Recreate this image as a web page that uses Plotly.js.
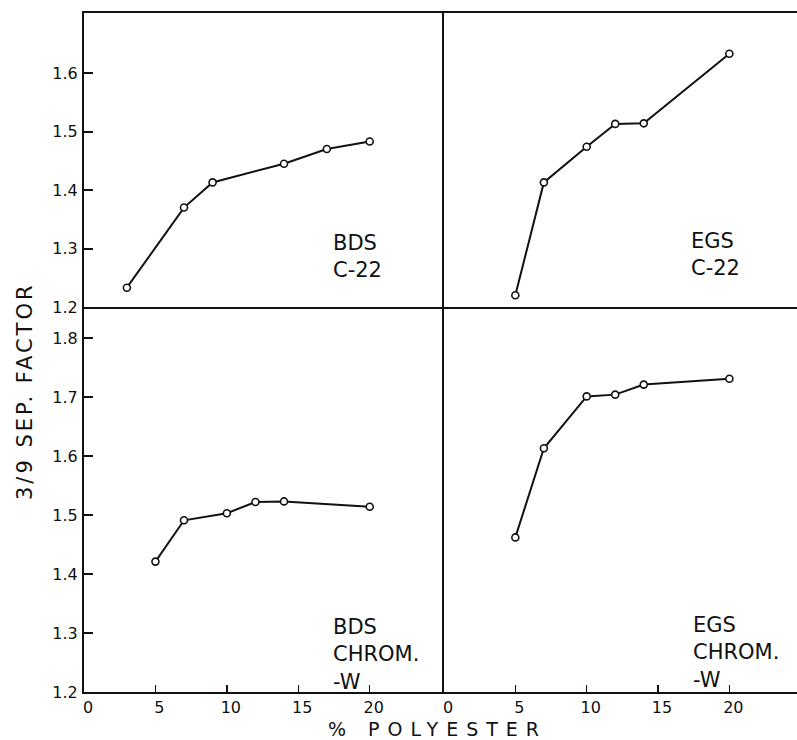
<!DOCTYPE html>
<html>
<head>
<meta charset="utf-8">
<script src="https://cdn.plot.ly/plotly-3.0.1.min.js"></script>
<style>html,body{margin:0;padding:0;background:#fff;}#chart{width:797px;height:740px;}</style>
</head>
<body>
<div id="chart"></div>
<script>
// Data
const bdsC22X = [3, 7, 9, 14, 17, 20];
const bdsC22Y = [1.233, 1.370, 1.413, 1.445, 1.470, 1.483];
const egsC22X = [5, 7, 10, 12, 14, 20];
const egsC22Y = [1.220, 1.413, 1.474, 1.513, 1.514, 1.633];
const bdsChromX = [5, 7, 10, 12, 14, 20];
const bdsChromY = [1.421, 1.491, 1.503, 1.522, 1.523, 1.514];
const egsChromX = [5, 7, 10, 12, 14, 20];
const egsChromY = [1.462, 1.613, 1.701, 1.704, 1.721, 1.731];
const xTicks = [0, 5, 10, 15, 20];
const xTickText = ['0', '5', '10', '15', '20'];
const yTicksTop = [1.2, 1.3, 1.4, 1.5, 1.6];
const yTicksBottom = [1.2, 1.3, 1.4, 1.5, 1.6, 1.7, 1.8];
const panelLabels = ['BDS<br>C-22', 'EGS<br>C-22', 'BDS<br>CHROM.<br>-W', 'EGS<br>CHROM.<br>-W'];
const xTitle = '% POLYESTER';
const yTitle = '3/9 SEP. FACTOR';

const ink = '#111111';
const font = 'DejaVu Sans, Liberation Sans, sans-serif';

function series(x, y, xa, ya) {
  return {
    x: x, y: y, xaxis: xa, yaxis: ya, type: 'scatter', mode: 'lines+markers',
    line: {color: ink, width: 2},
    marker: {symbol: 'circle', size: 7, color: '#ffffff', line: {color: ink, width: 1.6}},
    cliponaxis: false, showlegend: false, hoverinfo: 'skip'
  };
}

const data = [
  series(bdsChromX, bdsChromY, 'x', 'y'),
  series(egsChromX, egsChromY, 'x2', 'y2'),
  series(bdsC22X, bdsC22Y, 'x3', 'y3'),
  series(egsC22X, egsC22Y, 'x4', 'y4')
];

const split = 0.5049;
const ysplit = 0.567;
const tickFont = {family: font, size: 16, color: ink};

function xBottom(domain, range, anchor) {
  return {
    domain: domain, range: range, anchor: anchor, showgrid: false, zeroline: false,
    showline: true, linecolor: ink, linewidth: 2,
    ticks: 'inside', ticklen: 7, tickwidth: 1.5, tickcolor: ink,
    tickmode: 'array', tickvals: xTicks, ticktext: xTickText, tickfont: tickFont,
    ticklabelshift: 4
  };
}
function xTop(domain, range, anchor) {
  return {
    domain: domain, range: range, anchor: anchor, showgrid: false, zeroline: false,
    showline: true, mirror: true, linecolor: ink, linewidth: 2,
    ticks: '', showticklabels: false
  };
}
function yLeft(domain, range, anchor, vals) {
  return {
    domain: domain, range: range, anchor: anchor, showgrid: false, zeroline: false,
    showline: true, linecolor: ink, linewidth: 2,
    ticks: 'inside', ticklen: 9, tickwidth: 2, tickcolor: ink,
    tickmode: 'array', tickvals: vals, ticktext: vals.map(v => v.toFixed(1)),
    tickfont: tickFont, ticklabelstandoff: 1
  };
}
function yRight(domain, range, anchor) {
  return {
    domain: domain, range: range, anchor: anchor, showgrid: false, zeroline: false,
    showline: true, linecolor: ink, linewidth: 2, ticks: '', showticklabels: false
  };
}

const annFont = {family: font, size: 21, color: ink};
function panelLabel(text, xref, yref, x, y) {
  return {text: text, xref: xref, yref: yref, x: x, y: y, xanchor: 'left', yanchor: 'top',
          align: 'left', showarrow: false, font: annFont};
}

const layout = {
  width: 797, height: 740,
  margin: {l: 84, r: 0, t: 13, b: 48, pad: 0},
  paper_bgcolor: '#ffffff', plot_bgcolor: '#ffffff',
  showlegend: false,
  xaxis: xBottom([0, split], [0, 25.2], 'y'),
  yaxis: yLeft([0, ysplit], [1.2, 1.8525], 'x', yTicksBottom),
  xaxis2: xBottom([split, 1], [0, 24.74], 'y2'),
  yaxis2: yRight([0, ysplit], [1.2, 1.8525], 'x2'),
  xaxis3: xTop([0, split], [0, 25.2], 'y3'),
  yaxis3: yLeft([ysplit, 1], [1.2, 1.7026], 'x3', yTicksTop),
  xaxis4: xTop([split, 1], [0, 24.74], 'y4'),
  yaxis4: yRight([ysplit, 1], [1.2, 1.7026], 'x4'),
  annotations: [
    panelLabel(panelLabels[0], 'x3', 'y3', 17.3, 1.334),
    panelLabel(panelLabels[1], 'x4', 'y4', 17.2, 1.337),
    panelLabel(panelLabels[2], 'x', 'y', 17.3, 1.334),
    panelLabel(panelLabels[3], 'x2', 'y2', 17.3, 1.337),
    {text: '<span style="letter-spacing:8px">' + xTitle + '</span>', xref: 'paper', yref: 'paper',
     x: (437 - 84) / 713, y: (692 - 729) / 679, xanchor: 'center', yanchor: 'middle',
     showarrow: false, font: {family: font, size: 19, color: ink}},
    {text: '<span style="letter-spacing:3px">' + yTitle + '</span>', xref: 'paper', yref: 'paper',
     x: (25 - 84) / 713, y: (692 - 391) / 679, xanchor: 'center', yanchor: 'middle',
     textangle: -90, showarrow: false, font: {family: font, size: 21, color: ink}}
  ]
};

Plotly.newPlot('chart', data, layout, {staticPlot: true, displayModeBar: false});
</script>
</body>
</html>
